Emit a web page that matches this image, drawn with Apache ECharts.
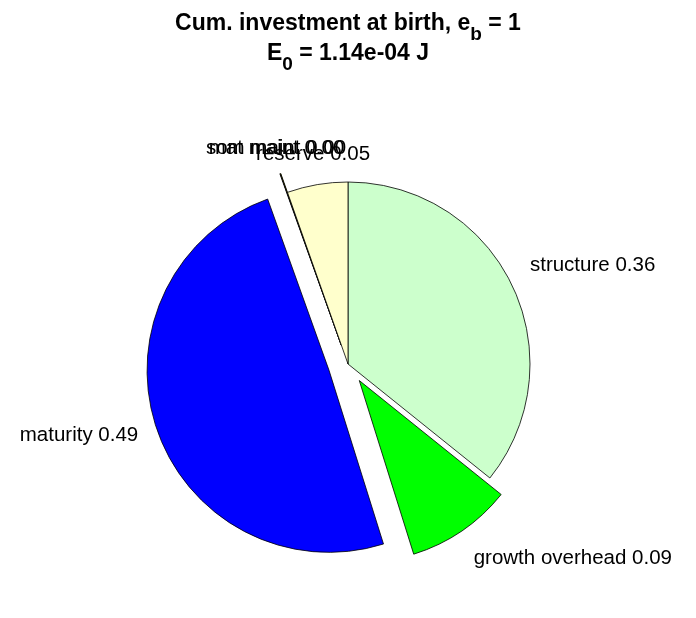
<!DOCTYPE html>
<html>
<head>
<meta charset="utf-8">
<script src="https://cdn.jsdelivr.net/npm/echarts@6/dist/echarts.min.js"></script>
<style>
html,body{margin:0;padding:0;background:#fff;}
#chart{width:696px;height:618px;}
</style>
</head>
<body>
<div id="chart"></div>
<script>
// ---- data ----
var categories = ['structure', 'growth overhead', 'maturity', 'som maint', 'mat maint', 'reserve'];
var values = [0.358, 0.094, 0.494, 0.0004, 0.0004, 0.054];
var exploded = [false, true, true, true, true, false];
var titleLine1 = ['Cum. investment at birth, e', 'b', ' = 1'];
var titleLine2 = ['E', '0', ' = 1.14e-04 J'];

// ---- styles ----
var sliceColors = ['#ccffcc', '#00ff00', '#0000ff', '#0000ff', '#ffff00', '#ffffcc'];
// label placement (labelLine length / length2) per slice
var labelLen = [45.6, 33, 23.4, 26.7, 26.7, 31.1];
var labelLen2 = [-28.3, -11.8, -8.9, -79.9, -77.7, -63];

var FONT = '"Liberation Sans", Arial, Helvetica, sans-serif';

var data = categories.map(function (c, i) {
  return {
    name: c,
    value: values[i],
    selected: exploded[i],
    itemStyle: { color: sliceColors[i] },
    labelLine: { show: false, length: labelLen[i], length2: labelLen2[i] }
  };
});

var titleRich = {
  t: { fontSize: 23, fontWeight: 'bold', color: '#000', fontFamily: FONT, lineHeight: 40 },
  s: { fontSize: 19, fontWeight: 'bold', color: '#000', fontFamily: FONT, lineHeight: 8, verticalAlign: 'bottom' }
};

var chart = echarts.init(document.getElementById('chart'), null, { renderer: 'canvas' });
chart.setOption({
  animation: false,
  backgroundColor: '#ffffff',
  title: [
    {
      text: '{t|' + titleLine1[0] + '}{s|' + titleLine1[1] + '}{t|' + titleLine1[2] + '}',
      left: 'center', top: 4, padding: [0, 0, 0, 9],
      textStyle: { rich: titleRich }
    },
    {
      text: '{t|' + titleLine2[0] + '}{s|' + titleLine2[1] + '}{t|' + titleLine2[2] + '}',
      left: 'center', top: 34, padding: [0, 0, 0, 3],
      textStyle: { rich: titleRich }
    }
  ],
  series: [{
    type: 'pie',
    center: [348, 364],
    radius: 182,
    startAngle: 90,
    clockwise: true,
    selectedMode: 'multiple',
    selectedOffset: 20,
    avoidLabelOverlap: false,
    labelLayout: { hideOverlap: false },
    minAngle: 0,
    minShowLabelAngle: 0,
    itemStyle: { borderColor: '#000', borderWidth: 0.8 },
    select: { itemStyle: { borderColor: '#000', borderWidth: 0.8 } },
    emphasis: { disabled: true },
    label: {
      show: true,
      position: 'outside',
      fontSize: 20.5,
      color: '#000',
      fontFamily: FONT,
      distanceToLabelLine: 5,
      formatter: function (p) { return p.name + ' ' + p.value.toFixed(2); }
    },
    labelLine: { show: false },
    data: data
  }]
});
</script>
</body>
</html>
